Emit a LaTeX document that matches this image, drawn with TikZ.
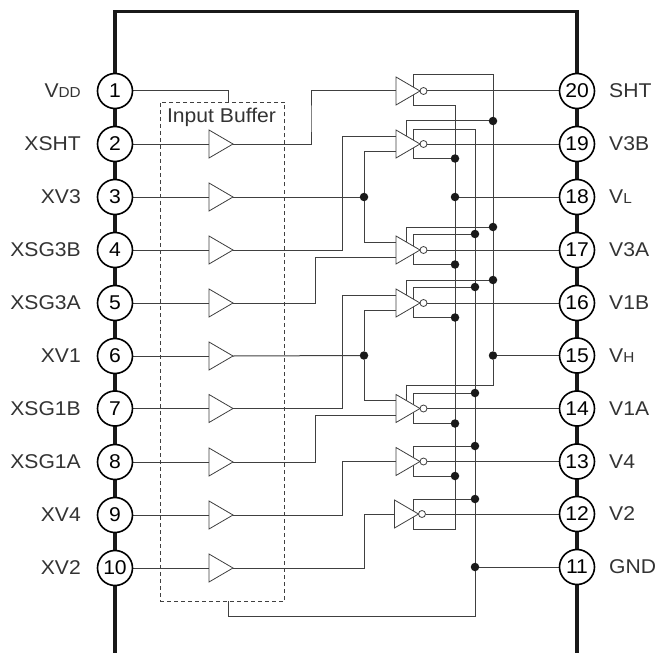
\documentclass[tikz,border=0pt]{standalone}
\usepackage{fontspec}
\setmainfont[FakeStretch=1.06]{Liberation Sans}
\usetikzlibrary{shapes.geometric,calc,backgrounds}
\definecolor{wirec}{HTML}{404040}
\definecolor{txtc}{HTML}{333333}
\tikzset{
 wire/.style={draw=wirec,line width=1bp},
 body/.style={draw=black!90,line width=3.3bp},
 pin/.style={circle,draw=black,line width=1.6bp,fill=white,minimum size=35bp,inner sep=0pt,font=\fontsize{20}{20}\selectfont,text=black},
 tri/.style={isosceles triangle,isosceles triangle apex angle=60,isosceles triangle stretches,draw=wirec,line width=0.8bp,fill=white,minimum width=28bp,minimum height=24bp,inner sep=0pt,outer sep=0pt},
 bub/.style={circle,draw=wirec,line width=0.8bp,fill=white,minimum size=7bp,inner sep=0pt,outer sep=0pt},
 dotn/.style={circle,fill=black!90,minimum size=8.5bp,inner sep=0pt,outer sep=0pt},
 lab/.style={font=\fontsize{20}{20}\selectfont,text=txtc,inner sep=0pt},
 ibox/.style={draw=wirec,dashed,dash pattern=on 4bp off 3bp,line width=0.8bp,minimum width=124.5bp,minimum height=499bp,inner sep=0pt},
}
\newcommand{\smv}[1]{{\fontsize{14.5}{14.5}\selectfont #1}}
\newcommand{\mkinv}[3]{% name, y, x of apex
  \node[tri,anchor=apex] (i#1) at (#3,#2) {};
  \node[bub,anchor=west] (o#1) at (i#1.apex) {};
  \coordinate (i#1s) at ($(i#1.apex)+(-14,0)$);
  \coordinate (i#1c) at (413,#2);
  \coordinate (i#1u) at ($(i#1.lower side)+(1,-8)$);
  \coordinate (i#1l) at ($(i#1.lower side)+(1,7)$);
  \coordinate (i#1m) at ($(i#1.lower side)+(1,0)$);
}
\begin{document}
\begin{tikzpicture}[x=1bp,y=-1bp]
\useasboundingbox (0,0) rectangle (657,653);
% pins
\foreach \n/\y/\t in {1/91/{V\smv{DD}},2/144/XSHT,3/197/XV3,4/250/XSG3B,5/303/XSG3A,6/356/XV1,7/408.5/XSG1B,8/462/XSG1A,9/515/XV4,10/568/XV2}{
  \node[pin] (p\n) at (115,\y) {\n};
  \node[lab,anchor=east] (t\n) at (81,\y) {\t};
}
\foreach \n/\y in {2/144,3/197,4/250,5/303,6/356,7/408.5,8/462,9/515,10/568}{
  \node[tri,anchor=apex] (b\n) at (233,\y) {};
}
\foreach \n/\y/\t in {20/91/SHT,19/144/V3B,18/197/{V\smv{L}},17/250/V3A,16/303/V1B,15/355.5/{V\smv{H}},14/408.5/V1A,13/461.5/V4,12/514/V2,11/567/GND}{
  \node[pin] (p\n) at (577,\y) {\n};
  \node[lab,anchor=west] (t\n) at (609,\y) {\t};
}
% inverters
\mkinv{20}{91}{420}
\mkinv{19}{144}{420}
\mkinv{17}{250}{420}
\mkinv{16}{303}{420}
\mkinv{14}{408.5}{420}
\mkinv{13}{461.5}{420}
\mkinv{12}{514}{418.5}
% dashed box
\node[ibox] (ib) at (222.25,351.5) {};
\node[lab] (ibt) at (221.5,117) {Input Buffer};
% junctions
\foreach \nm/\x/\y in {a19/493/121,a17/493/227,a16/493/280,d15/493/355.5,
  b17/475/234,b16/475/287,b14/475/393,b13/475/446,b12/475/499,d11/475/567,
  c19/455/158.5,d18/455/197,c17/455/264.5,c16/455/317.5,c14/455/423.5,c13/455/476,
  j3/364/197,j6/364/355.5}{
  \node[dotn] (\nm) at (\x,\y) {};
}
\coordinate (ibin) at (228,102);
\coordinate (ibout) at (228,601);
\begin{scope}[on background layer]
 % package outline
 \coordinate (bl) at (115,653); \coordinate (br) at (577,653);
 \draw[body] (bl) -- (115,11.5) -- (577,11.5) -- (br);
 % pin to buffer
 \foreach \n in {2,3,4,5,6,7,8,9,10}{ \draw[wire] (p\n) -- (b\n); }
 % outputs
 \foreach \n in {20,19,17,16,14,13,12}{ \draw[wire] (o\n) -- (p\n); }
 \draw[wire] (p1) -| (ibin);
 \draw[wire] (p18) -- (d18);
 \draw[wire] (p15) -- (d15);
 \draw[wire] (p11) -- (d11);
 % buffer outputs
 \draw[wire] (b2.apex) -| (311,120) |- (i20m);
 \draw[wire] (b3.apex) -- (j3);
 \draw[wire] (b6.apex) -- (j6);
 \draw[wire] (b4.apex) -- (342,250) |- (i19u);
 \draw[wire] (b5.apex) -- (315,303) |- (i17l);
 \draw[wire] (b7.apex) -- (342,408.5) |- (i16u);
 \draw[wire] (b8.apex) -- (315,462) |- (i14l);
 \draw[wire] (b9.apex) -- (342,515) |- (i13m);
 \draw[wire] (b10.apex) -- (364,568) |- (i12m);
 \draw[wire] (i19l) -| (j3); \draw[wire] (j3) |- (i17u);
 \draw[wire] (i16l) -| (j6); \draw[wire] (j6) |- (i14u);
 % rail x3
 \draw[wire] (i20c) -- (413,75) -| (d15);
 \draw[wire] (d15) -- (493,385.5) -| (i14s);
 \draw[wire] (i19s) |- (a19);
 \draw[wire] (i17s) |- (a17);
 \draw[wire] (i16s) |- (a16);
 % rail x1
 \draw[wire] (i20c) |- (455,106) -- (455,529) -| (i12c);
 \draw[wire] (i19c) |- (c19);
 \draw[wire] (i17c) |- (c17);
 \draw[wire] (i16c) |- (c16);
 \draw[wire] (i14c) |- (c14);
 \draw[wire] (i13c) |- (c13);
 % rail x2
 \draw[wire] (i19c) -- (413,129) -| (475,616) -| (ibout);
 \draw[wire] (i17c) |- (b17);
 \draw[wire] (i16c) |- (b16);
 \draw[wire] (i14c) |- (b14);
 \draw[wire] (i13c) |- (b13);
 \draw[wire] (i12c) |- (b12);
\end{scope}
\end{tikzpicture}
\end{document}
